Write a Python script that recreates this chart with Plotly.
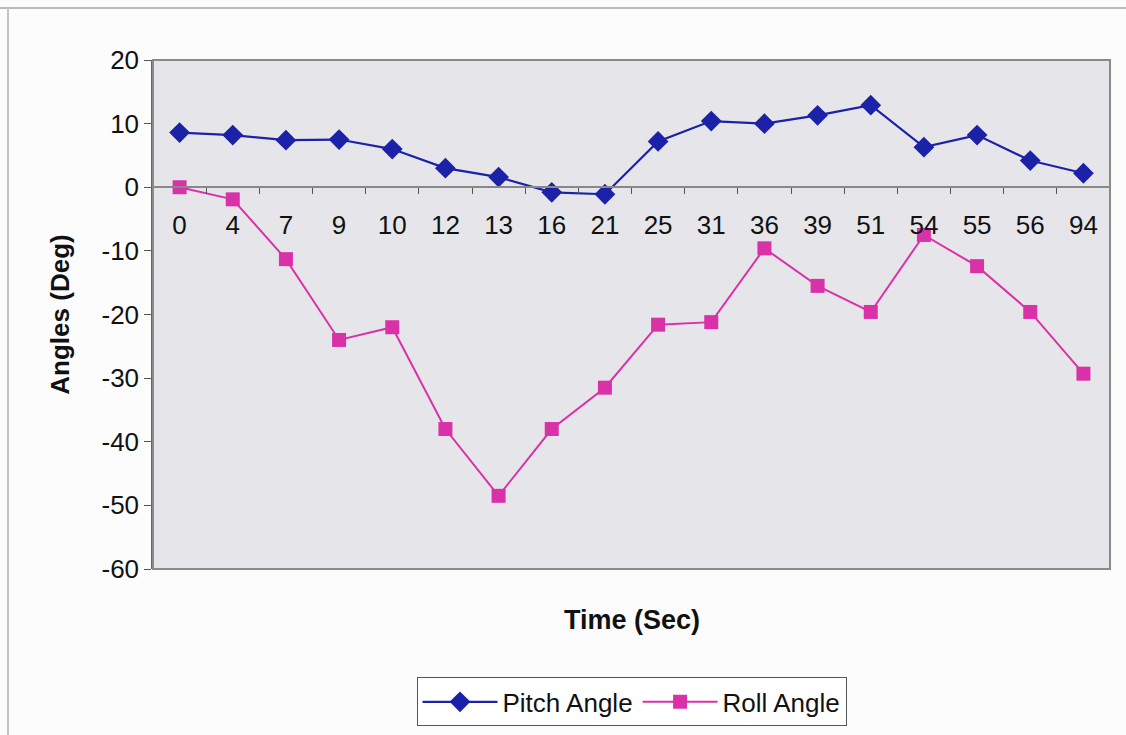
import plotly.graph_objects as go

time_labels = ["0", "4", "7", "9", "10", "12", "13", "16", "21", "25", "31", "36", "39", "51", "54", "55", "56", "94"]
pitch_angle = [8.6, 8.2, 7.4, 7.5, 6.0, 3.0, 1.6, -0.8, -1.1, 7.2, 10.4, 10.0, 11.3, 12.9, 6.3, 8.2, 4.2, 2.2]
roll_angle = [0.0, -1.9, -11.3, -24.0, -22.0, -38.0, -48.5, -38.0, -31.5, -21.6, -21.2, -9.6, -15.5, -19.6, -7.5, -12.4, -19.6, -29.3]
y_ticks = [20, 10, 0, -10, -20, -30, -40, -50, -60]
y_tick_labels = ["20", "10", "0", "-10", "-20", "-30", "-40", "-50", "-60"]

FONT = "Liberation Sans, Arial, sans-serif"
y_min, y_max = -60, 20

fig = go.Figure()
fig.add_trace(go.Scatter(
    x=time_labels, y=pitch_angle, name="Pitch Angle", mode="lines+markers",
    line=dict(color="#1c22a8", width=2.2),
    marker=dict(symbol="diamond", size=16, color="#1c22a8"),
))
fig.add_trace(go.Scatter(
    x=time_labels, y=roll_angle, name="Roll Angle", mode="lines+markers",
    line=dict(color="#d932a8", width=2),
    marker=dict(symbol="square", size=14, color="#d932a8"),
))

fig.update_layout(
    width=1126, height=735,
    margin=dict(l=153, r=16, t=60, b=166, autoexpand=False),
    paper_bgcolor="#fcfcfc",
    plot_bgcolor="#e6e6ea",
    font=dict(family=FONT, size=26, color="#111111"),
    showlegend=True,
    legend=dict(
        orientation="h", x=0.5, xanchor="center", y=-0.213, yanchor="top",
        yref="paper",
        bordercolor="#555555", borderwidth=1, bgcolor="#ffffff",
        font=dict(family=FONT, size=26, color="#111111"),
        tracegroupgap=0, itemwidth=75,
    ),
    xaxis=dict(
        type="category", categoryorder="array", categoryarray=time_labels,
        anchor="free", position=(0 - y_min) / (y_max - y_min),
        showline=True, linecolor="#888888", linewidth=1.5,
        ticks="outside", tickson="boundaries", ticklen=6, tickcolor="#555555",
        showgrid=False, zeroline=False,
        tickfont=dict(family=FONT, size=26, color="#111111"),
        ticklabelstandoff=15,
        range=[-0.5, len(time_labels) - 0.5],
    ),
    yaxis=dict(
        range=[y_min, y_max], tickvals=y_ticks, ticktext=y_tick_labels,
        showline=True, linecolor="#666666", linewidth=1.5,
        ticks="outside", ticklen=7, tickcolor="#555555",
        showgrid=False, zeroline=False,
        tickfont=dict(family=FONT, size=26, color="#111111"),
        title=dict(text="<b>Angles (Deg)</b>", font=dict(family=FONT, size=26, color="#111111"), standoff=24),
    ),
    shapes=[
        dict(type="rect", xref="paper", yref="paper", x0=0, x1=1, y0=0, y1=1,
             line=dict(color="#8a8a8a", width=2), fillcolor="rgba(0,0,0,0)", layer="above"),
        dict(type="line", xref="paper", yref="paper", x0=-153/957, x1=1.1, y0=1 + 52/509, y1=1 + 52/509,
             line=dict(color="#bbbbbb", width=2)),
        dict(type="line", xref="paper", yref="paper", x0=-145/957, x1=-145/957, y0=1 + 52/509, y1=-1,
             line=dict(color="#c4c4c4", width=2)),
    ],
    annotations=[
        dict(text="<b>Time (Sec)</b>", xref="paper", yref="paper", x=0.5, y=-0.1,
             xanchor="center", yanchor="middle", showarrow=False,
             font=dict(family=FONT, size=27, color="#111111")),
    ],
)

fig.write_html("out.html")
